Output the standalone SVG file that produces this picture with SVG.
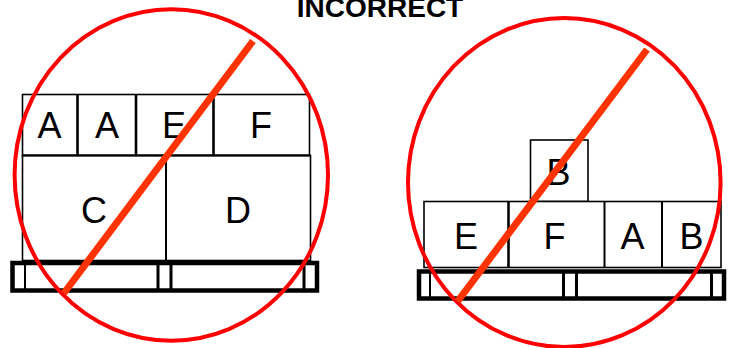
<svg xmlns="http://www.w3.org/2000/svg" width="732" height="348" viewBox="0 0 732 348">
<style>
.box{fill:#fff;stroke:#000;stroke-width:1.6}
.div{stroke:#000;stroke-width:2.6}
.lbl{font-family:"Liberation Sans",Arial,sans-serif;font-size:36px;fill:#000;text-anchor:middle}
.pal{fill:none;stroke:#000;stroke-width:4.5}
.blk{stroke:#000;stroke-width:3}
.ring{fill:none;stroke:#ff0000;stroke-width:4}
.slash{stroke:#ff3300;stroke-width:7}
</style>
<rect width="732" height="348" fill="#fff"/>
<text x="380" y="17" font-family="Liberation Sans,Arial,sans-serif" font-weight="bold" font-size="28" text-anchor="middle">INCORRECT</text>

<g id="left">
  <g id="left-boxes">
    <rect class="box" x="22.5" y="94.5" width="287" height="61"/>
    <rect class="box" x="22.5" y="155.5" width="288" height="105"/>
    <line class="div" x1="77.5" y1="94.5" x2="77.5" y2="155.5"/>
    <line class="div" x1="136" y1="94.5" x2="136" y2="155.5"/>
    <line class="div" x1="213.5" y1="94.5" x2="213.5" y2="155.5"/>
    <line class="box" x1="22.5" y1="155.5" x2="310.5" y2="155.5" style="stroke-width:2.2"/>
    <line class="div" x1="166" y1="155.5" x2="166" y2="260.5" style="stroke-width:2"/>
    <text class="lbl" x="49.5" y="138">A</text>
    <text class="lbl" x="107" y="138">A</text>
    <text class="lbl" x="174" y="138">E</text>
    <text class="lbl" x="261" y="138">F</text>
    <text class="lbl" x="94" y="223">C</text>
    <text class="lbl" x="238" y="223">D</text>
  </g>
  <g id="left-pallet">
    <rect class="pal" x="12.5" y="263" width="304.5" height="27.5"/>
    <line class="blk" x1="25" y1="263" x2="25" y2="290.5" style="stroke-width:2"/>
    <line class="blk" x1="158" y1="263" x2="158" y2="290.5"/>
    <line class="blk" x1="171" y1="263" x2="171" y2="290.5"/>
    <line class="blk" x1="304" y1="263" x2="304" y2="290.5"/>
  </g>
  <ellipse class="ring" cx="171.3" cy="175" rx="156.7" ry="165.7"/>
  <line class="slash" x1="253" y1="41" x2="64" y2="293"/>
</g>

<g id="right">
  <g id="right-boxes">
    <rect class="box" x="530.5" y="140" width="57.5" height="61.5"/>
    <rect class="box" x="424" y="201.5" width="297" height="66"/>
    <line class="div" x1="508.5" y1="201.5" x2="508.5" y2="267.5"/>
    <line class="div" x1="604.5" y1="201.5" x2="604.5" y2="267.5" style="stroke-width:2"/>
    <line class="div" x1="662" y1="201.5" x2="662" y2="267.5" style="stroke-width:2"/>
    <text class="lbl" x="558.5" y="184.5">B</text>
    <text class="lbl" x="466" y="248.5">E</text>
    <text class="lbl" x="554.5" y="248.5">F</text>
    <text class="lbl" x="632.5" y="248.5">A</text>
    <text class="lbl" x="691.5" y="248.5">B</text>
  </g>
  <g id="right-pallet">
    <rect class="pal" x="419" y="271.5" width="305" height="27"/>
    <line class="blk" x1="430" y1="271.5" x2="430" y2="298.5" style="stroke-width:2"/>
    <line class="blk" x1="563.5" y1="271.5" x2="563.5" y2="298.5"/>
    <line class="blk" x1="576.5" y1="271.5" x2="576.5" y2="298.5"/>
    <line class="blk" x1="711.5" y1="271.5" x2="711.5" y2="298.5"/>
  </g>
  <ellipse class="ring" cx="564.3" cy="182.5" rx="156.3" ry="164.5"/>
  <line class="slash" x1="647" y1="49.5" x2="457.5" y2="301.5"/>
</g>
</svg>
